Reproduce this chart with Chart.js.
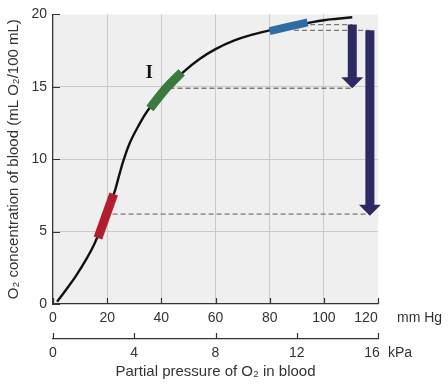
<!DOCTYPE html>
<html>
<head>
<meta charset="utf-8">
<script src="https://cdn.jsdelivr.net/npm/chart.js@4.4.0/dist/chart.umd.min.js"></script>
<style>
  html, body { margin: 0; padding: 0; background: #fff; }
</style>
</head>
<body>
<canvas id="chart" width="448" height="385"></canvas>
<script>
// dissociation curve (mm Hg -> mL O2/100 mL)
const curveX = [1.5, 4.9, 8.6, 12.3, 15.4, 19.5, 22.5, 24.6, 26, 28.3, 31.4, 35.1, 40, 44, 48, 54, 60, 67, 74, 80, 87, 94, 100, 105, 110.5];
const curveY = [0.16, 1.0, 1.98, 3.1, 4.2, 6.05, 7.6, 9.0, 9.9, 11.1, 12.25, 13.4, 14.45, 15.25, 16.0, 16.9, 17.6, 18.2, 18.62, 18.9, 19.15, 19.4, 19.6, 19.7, 19.8];

// coloured bands on the curve
const redX = [16.6, 22.4];
const redY = [4.55, 7.6];
const greenX = [35.8, 41.5, 47.5];
const greenY = [13.5, 14.85, 16.0];
const blueX = [80, 87, 94];
const blueY = [18.85, 19.15, 19.45];

// dashed guide lines
const dashFromX = [22, 43, 89, 89];
const dashToX = [117, 110.5, 110.5, 117];
const dashY = [6.2, 14.9, 19.3, 18.9];

// arrows
const arrowX = [110.5, 117];
const arrowFrom = [19.3, 18.9];
const arrowTo = [14.9, 6.1];

// label "I"
const markText = ['I'];
const markX = [35.5];
const markY = [15.95];

const mmHgMax = 120;
const kPaMax = 16;

function pts(xs, ys) {
  return xs.map((x, i) => ({ x: x, y: ys[i] }));
}

const datasets = [];
datasets.push({ data: pts(redX, redY), borderColor: '#b01f2b', borderWidth: 9, borderCapStyle: 'butt', pointRadius: 0 });
datasets.push({ data: pts(greenX, greenY), borderColor: '#3b7a3d', borderWidth: 9, borderCapStyle: 'butt', tension: 0.3, pointRadius: 0 });
datasets.push({ data: pts(blueX, blueY), borderColor: '#2f6ca3', borderWidth: 8, borderCapStyle: 'butt', tension: 0.3, pointRadius: 0 });
datasets.push({ data: pts(curveX, curveY), borderColor: '#111', borderWidth: 2.4, tension: 0.4, pointRadius: 0 });
dashY.forEach((y, i) => {
  datasets.push({
    data: [{ x: dashFromX[i], y: y }, { x: dashToX[i], y: y }],
    borderColor: '#7a7a7a', borderWidth: 1.3, borderDash: [5, 3], pointRadius: 0
  });
});

const font = '"Liberation Sans", Arial, sans-serif';
const axisColor = '#333';

const decor = {
  id: 'decor',
  beforeDraw(chart) {
    const { ctx, chartArea: a } = chart;
    ctx.save();
    ctx.fillStyle = '#efefef';
    ctx.fillRect(a.left, a.top, a.right - a.left, a.bottom - a.top);
    ctx.restore();
  },
  afterDatasetsDraw(chart) {
    const { ctx } = chart;
    const xs = chart.scales.x, ys = chart.scales.y;
    ctx.save();
    ctx.fillStyle = '#2d2963';
    arrowX.forEach((v, i) => {
      const px = xs.getPixelForValue(v);
      const top = ys.getPixelForValue(arrowFrom[i]);
      const tip = ys.getPixelForValue(arrowTo[i]);
      ctx.fillRect(px - 4.5, top, 9, tip - 10 - top);
      ctx.beginPath();
      ctx.moveTo(px - 11, tip - 11);
      ctx.lineTo(px + 11, tip - 11);
      ctx.lineTo(px, tip);
      ctx.closePath();
      ctx.fill();
    });
    ctx.fillStyle = '#111';
    ctx.font = 'bold 18px "Liberation Serif", "Times New Roman", serif';
    ctx.textAlign = 'center';
    ctx.textBaseline = 'middle';
    markText.forEach((t, i) => {
      ctx.fillText(t, xs.getPixelForValue(markX[i]), ys.getPixelForValue(markY[i]));
    });
    ctx.restore();
  },
  afterDraw(chart) {
    const { ctx, chartArea: a } = chart;
    const xs = chart.scales.x, x2 = chart.scales.x2, ys = chart.scales.y;
    ctx.save();
    ctx.strokeStyle = axisColor;
    ctx.lineWidth = 1.2;
    ctx.beginPath();
    xs.ticks.forEach(t => {
      const p = Math.round(xs.getPixelForValue(t.value)) + 0.5;
      ctx.moveTo(p, a.bottom); ctx.lineTo(p, a.bottom - 6);
    });
    ys.ticks.forEach(t => {
      const p = Math.round(ys.getPixelForValue(t.value)) + 0.5;
      ctx.moveTo(a.left, p); ctx.lineTo(a.left + 7, p);
    });
    x2.ticks.forEach(t => {
      const p = Math.round(x2.getPixelForValue(t.value)) + 0.5;
      ctx.moveTo(p, x2.top); ctx.lineTo(p, x2.top - 6);
    });
    ctx.stroke();

    // end labels with units
    ctx.fillStyle = axisColor;
    ctx.font = '14px ' + font;
    ctx.textBaseline = 'middle';
    const p120 = xs.getPixelForValue(mmHgMax);
    const y1 = xs.top + 6 + 8.4;
    ctx.textAlign = 'center';
    ctx.fillText(String(mmHgMax), p120 - 12, y1);
    ctx.textAlign = 'left';
    ctx.fillText('mm Hg', p120 + 19, y1);
    const p16 = x2.getPixelForValue(kPaMax);
    const y2 = x2.top + 6 + 8.4;
    ctx.textAlign = 'center';
    ctx.fillText(String(kPaMax), p16 - 6, y2);
    ctx.textAlign = 'left';
    ctx.fillText('kPa', p16 + 10, y2);
    ctx.restore();
  }
};

new Chart(document.getElementById('chart'), {
  type: 'line',
  data: { datasets: datasets },
  options: {
    responsive: false,
    animation: false,
    layout: { padding: { left: 0, right: 70, top: 12, bottom: 0 } },
    plugins: { legend: { display: false }, tooltip: { enabled: false } },
    scales: {
      x: {
        type: 'linear', position: 'bottom', weight: 0,
        min: 0, max: mmHgMax,
        afterFit: s => { s.height = 35; },
        grid: {
          drawTicks: false,
          color: c => (c.tick.value === 0 || c.tick.value === mmHgMax) ? 'rgba(0,0,0,0)' : '#c9c9c9',
          lineWidth: 1
        },
        border: { display: true, color: axisColor, width: 1.3 },
        ticks: {
          stepSize: 20, padding: 6, color: axisColor, font: { size: 14, family: font },
          maxRotation: 0,
          callback: v => v === mmHgMax ? '' : v
        }
      },
      x2: {
        type: 'linear', position: 'bottom', weight: 1,
        min: 0, max: kPaMax,
        afterFit: s => { s.height = 46; },
        grid: { display: false, drawTicks: false },
        border: { display: true, color: axisColor, width: 1.3 },
        ticks: {
          stepSize: 4, padding: 6, color: axisColor, font: { size: 14, family: font },
          maxRotation: 0,
          callback: v => v === kPaMax ? '' : v
        },
        title: {
          display: true, text: 'Partial pressure of O₂ in blood', color: axisColor,
          font: { size: 15, family: font }, padding: { top: 2, bottom: 4 }
        }
      },
      y: {
        min: 0, max: 20,
        afterFit: s => { s.width = 53; },
        grid: {
          drawTicks: false,
          color: c => (c.tick.value === 0 || c.tick.value === 20) ? 'rgba(0,0,0,0)' : '#c9c9c9',
          lineWidth: 1
        },
        border: { display: true, color: axisColor, width: 1.3 },
        ticks: { stepSize: 5, padding: 6, color: axisColor, font: { size: 14, family: font } },
        title: {
          display: true, text: 'O₂ concentration of blood (mL O₂/100 mL)', color: axisColor,
          font: { size: 15, family: font }, padding: { top: 5, bottom: 0 }
        }
      }
    }
  },
  plugins: [decor]
});
</script>
</body>
</html>
